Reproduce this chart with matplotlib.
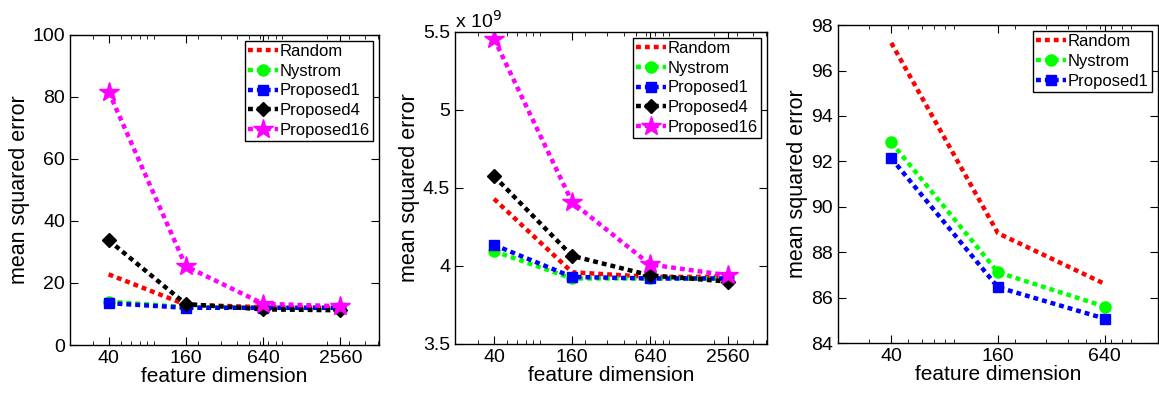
import numpy as np
import matplotlib
matplotlib.use("Agg")
from matplotlib import pyplot as plt
from matplotlib.ticker import FixedLocator, NullFormatter, LogLocator

plt.rcParams['font.family'] = ['Liberation Sans', 'DejaVu Sans']

# data
dims = [40, 160, 640, 2560]
dims3 = [40, 160, 640]

# panel 1
p1_random = [22.8, 13.0, 12.2, 12.0]
p1_nystrom = [14.0, 12.2, 12.0, 12.0]
p1_prop1 = [13.5, 12.0, 12.0, 12.0]
p1_prop4 = [33.8, 13.2, 11.5, 11.2]
p1_prop16 = [81.7, 25.4, 13.3, 12.5]

# panel 2 (x 1e9)
p2_random = [4.43, 3.96, 3.93, 3.93]
p2_nystrom = [4.095, 3.92, 3.92, 3.92]
p2_prop1 = [4.135, 3.93, 3.92, 3.92]
p2_prop4 = [4.576, 4.065, 3.94, 3.90]
p2_prop16 = [5.457, 4.41, 4.01, 3.94]

# panel 3
p3_random = [97.22, 88.84, 86.61]
p3_nystrom = [92.84, 87.12, 85.61]
p3_prop1 = [92.14, 86.46, 85.08]

names = ["Random", "Nystrom", "Proposed1", "Proposed4", "Proposed16"]
colors = ["#ff0000", "#00ff00", "#0000ff", "#000000", "#ff00ff"]
markers = [None, "o", "s", "D", "*"]
msizes = [0, 8, 7, 7, 15]

fig = plt.figure(figsize=(11.59, 3.93), dpi=100)
ax1 = fig.add_axes([0.0604, 0.1221, 0.2666, 0.789])
ax2 = fig.add_axes([0.3926, 0.1247, 0.2692, 0.794])
ax3 = fig.add_axes([0.7230, 0.1270, 0.2760, 0.809])


def draw(ax, x, series, legend_fs=12):
    for i, y in enumerate(series):
        ax.plot(x, y, color=colors[i], linestyle=(0, (1.1, 0.9)), linewidth=3.2,
                marker=markers[i], markersize=msizes[i], label=names[i])
    ax.set_xscale("log")
    ax.xaxis.set_major_locator(FixedLocator(x))
    ax.set_xticklabels([str(v) for v in x])
    ax.xaxis.set_minor_locator(LogLocator(base=10, subs=np.arange(2, 10)))
    ax.xaxis.set_minor_formatter(NullFormatter())
    ax.tick_params(which="both", direction="in", top=True, right=True, labelsize=14)
    ax.tick_params(which="major", length=6)
    ax.tick_params(which="minor", length=3)
    ax.set_xlabel("feature dimension", fontsize=15, labelpad=0)
    ax.set_ylabel("mean squared error", fontsize=15.5, labelpad=2)
    leg = ax.legend(loc="upper right", fontsize=legend_fs, fancybox=False,
                    edgecolor="black", framealpha=1, handlelength=1.8,
                    handletextpad=0.1, borderpad=0.2, labelspacing=0.28,
                    borderaxespad=0.35)
    leg.get_frame().set_linewidth(1.0)
    for s in ax.spines.values():
        s.set_linewidth(1.0)


draw(ax1, dims, [p1_random, p1_nystrom, p1_prop1, p1_prop4, p1_prop16])
ax1.set_xlim(20, 5120)
ax1.set_ylim(0, 100)
ax1.set_yticks([0, 20, 40, 60, 80, 100])

draw(ax2, dims, [p2_random, p2_nystrom, p2_prop1, p2_prop4, p2_prop16])
ax2.set_xlim(20, 5120)
ax2.set_ylim(3.5, 5.5)
ax2.set_yticks([3.5, 4, 4.5, 5, 5.5])
ax2.set_yticklabels(["3.5", "4", "4.5", "5", "5.5"])
ax2.text(0.0, 1.0, r"x 10$^{9}$", transform=ax2.transAxes, fontsize=14,
         ha="left", va="bottom")

draw(ax3, dims3, [p3_random, p3_nystrom, p3_prop1])
ax3.set_xlim(20, 1280)
ax3.set_ylim(84, 98)
ax3.set_yticks([84, 86, 88, 90, 92, 94, 96, 98])

fig.savefig("out.png", dpi=100)
